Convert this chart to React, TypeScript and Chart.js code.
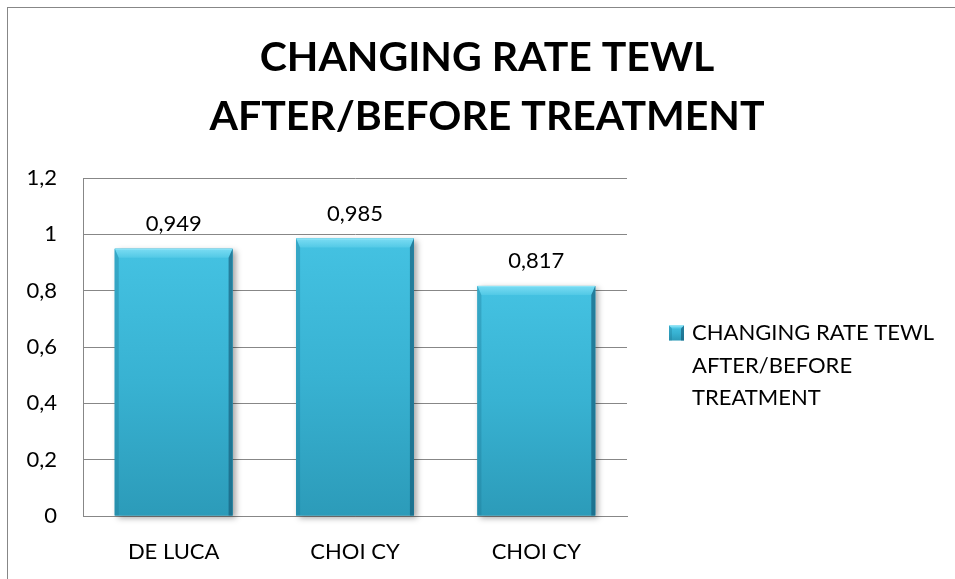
import { useEffect, useRef } from 'react';
import { Chart, registerables } from 'chart.js';

Chart.register(...registerables);

// Chart content
const titleLines = ['CHANGING RATE TEWL', 'AFTER/BEFORE TREATMENT'];
const categories = ['DE LUCA', 'CHOI CY', 'CHOI CY'];
const seriesLabel = 'CHANGING RATE TEWL AFTER/BEFORE TREATMENT';
const legendLines = ['CHANGING RATE TEWL', 'AFTER/BEFORE', 'TREATMENT'];
const rateValues = [0.949, 0.985, 0.817];
const yMin = 0;
const yMax = 1.2;
const yStep = 0.2;

const FONT = 'Lato, "Open Sans", "DejaVu Sans", sans-serif';
const GRID = '#878787';

// decimal comma formatting
const fmt = (v: number) => String(Math.round(v * 1000) / 1000).replace('.', ',');

type BarBox = { left: number; right: number; top: number; bottom: number };

function barBoxes(chart: Chart): BarBox[] {
  const meta = chart.getDatasetMeta(0);
  return meta.data
    .map((el: any) => {
      const p = el.getProps(['x', 'y', 'base', 'width'], true);
      return {
        left: p.x - p.width / 2,
        right: p.x + p.width / 2,
        top: Math.min(p.y, p.base),
        bottom: Math.max(p.y, p.base),
      };
    })
    .filter((b: BarBox) => [b.left, b.right, b.top, b.bottom].every(Number.isFinite));
}

function faceGradient(ctx: CanvasRenderingContext2D, top: number, bottom: number) {
  const g = ctx.createLinearGradient(0, top, 0, bottom);
  g.addColorStop(0, '#44c2e2');
  g.addColorStop(0.5, '#38b2d2');
  g.addColorStop(1, '#2c9bb9');
  return g;
}

// beveled edges on a box
function drawBevel(ctx: CanvasRenderingContext2D, b: BarBox, t: number, s: number) {
  const { left, right, top, bottom } = b;
  // top bevel
  const gt = ctx.createLinearGradient(0, top, 0, top + t);
  gt.addColorStop(0, '#7adcf3');
  gt.addColorStop(1, '#52c9e6');
  ctx.fillStyle = gt;
  ctx.beginPath();
  ctx.moveTo(left, top);
  ctx.lineTo(right, top);
  ctx.lineTo(right - s, top + t);
  ctx.lineTo(left + s, top + t);
  ctx.closePath();
  ctx.fill();
  // left bevel
  ctx.fillStyle = 'rgba(30, 120, 150, 0.35)';
  ctx.beginPath();
  ctx.moveTo(left, top);
  ctx.lineTo(left + s, top + t);
  ctx.lineTo(left + s, bottom);
  ctx.lineTo(left, bottom);
  ctx.closePath();
  ctx.fill();
  // right bevel
  ctx.fillStyle = 'rgba(20, 90, 120, 0.65)';
  ctx.beginPath();
  ctx.moveTo(right, top);
  ctx.lineTo(right - s, top + t);
  ctx.lineTo(right - s, bottom);
  ctx.lineTo(right, bottom);
  ctx.closePath();
  ctx.fill();
  // top edge highlight
  ctx.strokeStyle = 'rgba(160, 235, 250, 0.6)';
  ctx.lineWidth = 1;
  ctx.beginPath();
  ctx.moveTo(left + 1, top + 0.5);
  ctx.lineTo(right - 1, top + 0.5);
  ctx.stroke();
}

const barShadowPlugin = {
  id: 'barShadow',
  beforeDatasetsDraw(chart: Chart) {
    const ctx = chart.ctx;
    ctx.save();
    ctx.shadowColor = 'rgba(0, 0, 0, 0.35)';
    ctx.shadowBlur = 6;
    ctx.shadowOffsetX = 3;
    ctx.shadowOffsetY = 2;
    ctx.fillStyle = '#2c9bb9';
    for (const b of barBoxes(chart)) {
      ctx.fillRect(b.left, b.top, b.right - b.left, b.bottom - b.top);
    }
    ctx.restore();
  },
};

const barBevelPlugin = {
  id: 'barBevel',
  afterDatasetsDraw(chart: Chart) {
    const ctx = chart.ctx;
    ctx.save();
    for (const b of barBoxes(chart)) drawBevel(ctx, b, 9, 4);
    ctx.restore();
  },
};

const valueLabelPlugin = {
  id: 'valueLabels',
  afterDatasetsDraw(chart: Chart) {
    const ctx = chart.ctx;
    const meta = chart.getDatasetMeta(0);
    const data = chart.data.datasets[0].data as number[];
    ctx.save();
    ctx.font = `22px ${FONT}`;
    ctx.fillStyle = '#000';
    ctx.textAlign = 'center';
    ctx.textBaseline = 'middle';
    meta.data.forEach((el: any, i: number) => {
      const p = el.getProps(['x', 'y'], true);
      ctx.fillText(fmt(data[i]), p.x, p.y - 25);
    });
    ctx.restore();
  },
};

const sideLegendPlugin = {
  id: 'sideLegend',
  afterDraw(chart: Chart) {
    const ctx = chart.ctx;
    const area = chart.chartArea;
    const x0 = area.right + 42;
    const y0 = area.top + 155;
    const size = 15;
    ctx.save();
    const box = { left: x0, right: x0 + size, top: y0 - size / 2, bottom: y0 + size / 2 };
    ctx.fillStyle = faceGradient(ctx, box.top, box.bottom);
    ctx.fillRect(box.left, box.top, size, size);
    drawBevel(ctx, box, 3, 3);
    ctx.font = `22px ${FONT}`;
    ctx.fillStyle = '#000';
    ctx.textAlign = 'left';
    ctx.textBaseline = 'middle';
    legendLines.forEach((line, i) => {
      ctx.fillText(line, x0 + 23, y0 + i * 32.5);
    });
    ctx.restore();
  },
};

export default function App() {
  const canvasRef = useRef<HTMLCanvasElement | null>(null);

  useEffect(() => {
    const canvas = canvasRef.current;
    if (!canvas) return;
    const chart = new Chart(canvas, {
      type: 'bar',
      data: {
        labels: categories,
        datasets: [
          {
            label: seriesLabel,
            data: rateValues,
            backgroundColor: (c: any) => {
              const ch = c.chart;
              const ys = ch.scales?.y;
              if (!ch.chartArea || !ys) return '#38b2d2';
              const top = ys.getPixelForValue(Number(c.raw));
              const bottom = ys.getPixelForValue(0);
              if (!Number.isFinite(top) || !Number.isFinite(bottom) || top === bottom) return '#38b2d2';
              return faceGradient(ch.ctx, top, bottom);
            },
            borderWidth: 0,
            categoryPercentage: 1,
            barPercentage: 0.65,
          },
        ],
      },
      options: {
        responsive: false,
        animation: false,
        devicePixelRatio: 1,
        layout: { padding: { left: 19, right: 0, top: 0, bottom: 0 } },
        plugins: {
          legend: { display: false },
          tooltip: { enabled: false },
          title: {
            display: true,
            text: titleLines,
            color: '#000',
            font: { family: FONT, size: 41, weight: 'bold', lineHeight: 1.42 },
            padding: { top: 29, bottom: 32.6 },
          },
        },
        scales: {
          x: {
            grid: { display: false },
            border: { display: true, color: GRID, width: 1 },
            ticks: {
              color: '#000',
              font: { family: FONT, size: 22 },
              padding: 15,
              maxRotation: 0,
              autoSkip: false,
            },
            afterFit: (s: any) => {
              s.height = 63;
            },
          },
          y: {
            min: yMin,
            max: yMax,
            grid: { color: GRID, lineWidth: 1, drawTicks: false },
            border: { display: true, color: GRID, width: 1 },
            ticks: {
              stepSize: yStep,
              color: '#000',
              font: { family: FONT, size: 22 },
              padding: 26,
              callback: (v: any) => fmt(Number(v)),
            },
            afterFit: (s: any) => {
              s.width = 64;
            },
          },
          legendSpace: {
            type: 'linear',
            position: 'right',
            display: true,
            grid: { display: false },
            border: { display: false },
            ticks: { display: false },
            afterFit: (s: any) => {
              s.width = 328;
            },
          },
        },
      },
      plugins: [barShadowPlugin, barBevelPlugin, valueLabelPlugin, sideLegendPlugin],
    } as any);
    return () => chart.destroy();
  }, []);

  return (
    <div style={{ position: 'fixed', left: 0, top: 0, width: 955, height: 579, overflow: 'hidden', background: '#fff' }}>
      <div
        style={{
          position: 'absolute',
          left: 7,
          top: 7,
          width: 1000,
          height: 1000,
          border: `1px solid ${GRID}`,
          boxSizing: 'border-box',
        }}
      />
      <canvas ref={canvasRef} width={955} height={579} style={{ position: 'absolute', left: 0, top: 0, width: 955, height: 579 }} />
    </div>
  );
}
